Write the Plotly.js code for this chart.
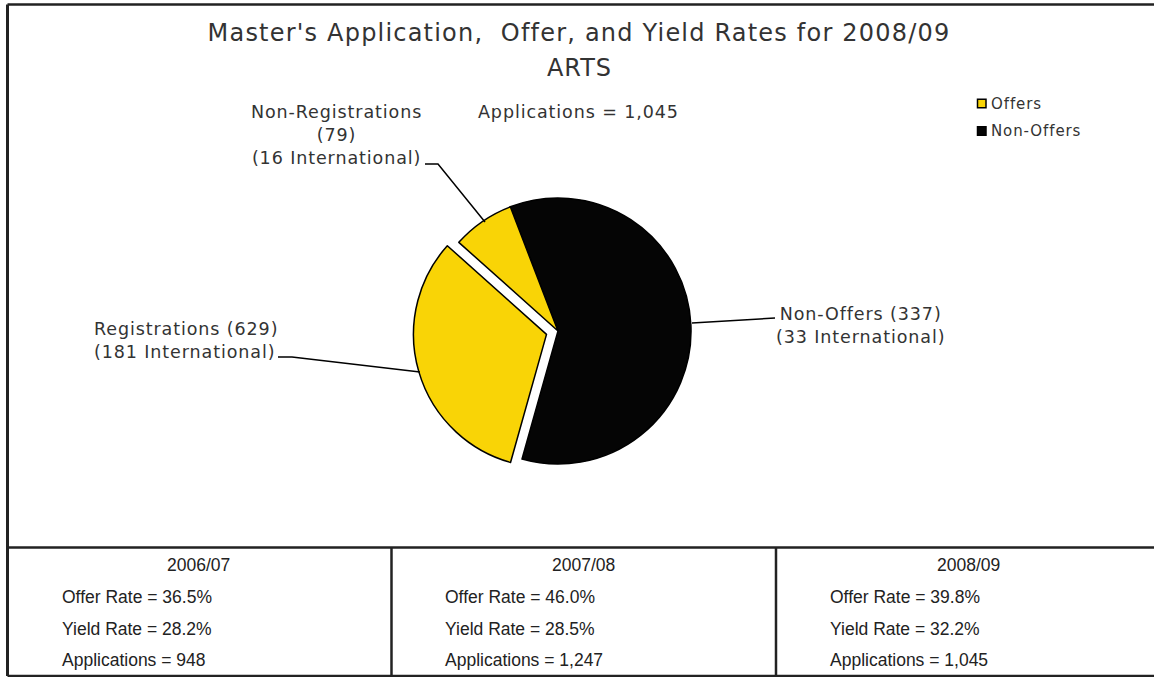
<!DOCTYPE html>
<html>
<head>
<meta charset="utf-8">
<script src="https://cdn.plot.ly/plotly-3.0.1.min.js"></script>
<style>
  html, body { margin: 0; padding: 0; background: #fff; }
  text.annotation-text[style*="DejaVu"] { letter-spacing: 0.9px; }
  .gtitle { letter-spacing: 1.2px; }
</style>
</head>
<body>
<div id="chart" style="width:1154px;height:677px;"></div>
<script>
// ---- Data ----
// Slice sizes as drawn: black slice, pulled-out yellow slice, small yellow slice
const sliceNames   = ["Non-Offers", "Registrations", "Non-Registrations"];
const sliceValues  = [629, 337, 79];
const sliceColors  = ["#050505", "#F9D406", "#F9D406"];
const slicePull    = [0, 0.09, 0];

// Label texts exactly as printed on the chart
const labelNonReg  = "Non-Registrations<br>(79)<br>(16 International)";
const labelReg     = "Registrations (629)<br>(181 International)";
const labelNonOff  = "Non-Offers (337)<br>(33 International)";
const applicationsText = "Applications = 1,045";

const legendNames  = ["Offers", "Non-Offers"];
const legendColors = ["#F9D406", "#050505"];

const years        = ["2006/07", "2007/08", "2008/09"];
const offerRates   = ["36.5%", "46.0%", "39.8%"];
const yieldRates   = ["28.2%", "28.5%", "32.2%"];
const applications = ["948", "1,247", "1,045"];

// ---- Layout helpers ----
const W = 1154, H = 677;
const X = px => px / W;
const Y = py => 1 - py / H;
const path = pts => pts.map((p, i) => (i ? "L" : "M") + X(p[0]).toFixed(5) + "," + Y(p[1]).toFixed(5)).join(" ");

const ink = "#333333";
const border = "#222222";
const chartFont = "DejaVu Sans";
const tableFont = "Liberation Sans, Arial, sans-serif";

const trace = {
  type: "pie",
  labels: sliceNames,
  values: sliceValues,
  sort: false,
  direction: "clockwise",
  rotation: -21,
  pull: slicePull,
  marker: { colors: sliceColors, line: { color: "#000000", width: 1.5 } },
  textinfo: "none",
  hoverinfo: "none",
  showlegend: false,
  domain: { x: [X(413), X(703)], y: [Y(476), Y(186)] }
};

const annotations = [];
const lab = (text, x, y, size, xanchor, align, font, color) => annotations.push({
  xref: "paper", yref: "paper", x: X(x), y: Y(y), text: text, showarrow: false,
  xanchor: xanchor || "center", yanchor: "middle", align: align || "center",
  font: { family: font || chartFont, size: size, color: color || ink }
});

lab("ARTS", 579, 68, 24);
lab(applicationsText, 578, 112, 17.5);
lab(labelNonReg, 336, 134.5, 17.5);
lab(labelReg, 92, 340, 17.5, "left", "left");
lab(labelNonOff, 860, 325, 17.5);

// Legend text
lab(legendNames[0], 989, 104, 15, "left", "left");
lab(legendNames[1], 989, 131, 15, "left", "left");

// Table text
const colLeft = [60, 443, 828];
const colCenter = [198, 583, 968];
for (let i = 0; i < years.length; i++) {
  lab(years[i], colCenter[i], 565, 17.5, "center", "center", tableFont, border);
  lab("Offer Rate = " + offerRates[i], colLeft[i], 597, 17.5, "left", "left", tableFont, border);
  lab("Yield Rate = " + yieldRates[i], colLeft[i], 629, 17.5, "left", "left", tableFont, border);
  lab("Applications = " + applications[i], colLeft[i], 660, 17.5, "left", "left", tableFont, border);
}

const shapes = [];
const line = (pts, w, c) => shapes.push({ type: "path", xref: "paper", yref: "paper", path: path(pts), line: { color: c || "#000", width: w || 1.5 } });

// Leader lines
line([[425, 164], [438, 164], [485, 222]], 1.5, "#000");
line([[278, 357], [292, 357], [420, 372]], 1.5, "#000");
line([[692, 323], [775, 318]], 1.5, "#000");

// Outer frame and table grid
line([[7.5, 4.5], [1156, 4.5]], 2.5, border);
line([[7.5, 4.5], [7.5, 676]], 3, border);
line([[7.5, 676], [1156, 676]], 2.5, border);
line([[7.5, 547.5], [1156, 547.5]], 2.5, border);
line([[391.5, 547.5], [391.5, 676]], 2.5, border);
line([[776, 547.5], [776, 676]], 2.5, border);

// Legend keys
for (let i = 0; i < legendNames.length; i++) {
  const yc = 103.5 + i * 27.5;
  shapes.push({ type: "rect", xref: "paper", yref: "paper",
    x0: X(977.5), x1: X(986), y0: Y(yc + 4.2), y1: Y(yc - 4.2),
    fillcolor: legendColors[i], line: { color: "#000", width: 1.5 } });
}

const layout = {
  width: W, height: H,
  margin: { l: 0, r: 0, t: 0, b: 0 },
  paper_bgcolor: "#ffffff",
  showlegend: false,
  title: {
    text: "Master's Application,  Offer, and Yield Rates for 2008/09",
    x: X(579), xanchor: "center", xref: "container",
    y: Y(33), yanchor: "middle", yref: "container",
    font: { family: chartFont, size: 24, color: ink }
  },
  annotations: annotations,
  shapes: shapes
};

Plotly.newPlot("chart", [trace], layout, { displayModeBar: false, staticPlot: true });
</script>
</body>
</html>
